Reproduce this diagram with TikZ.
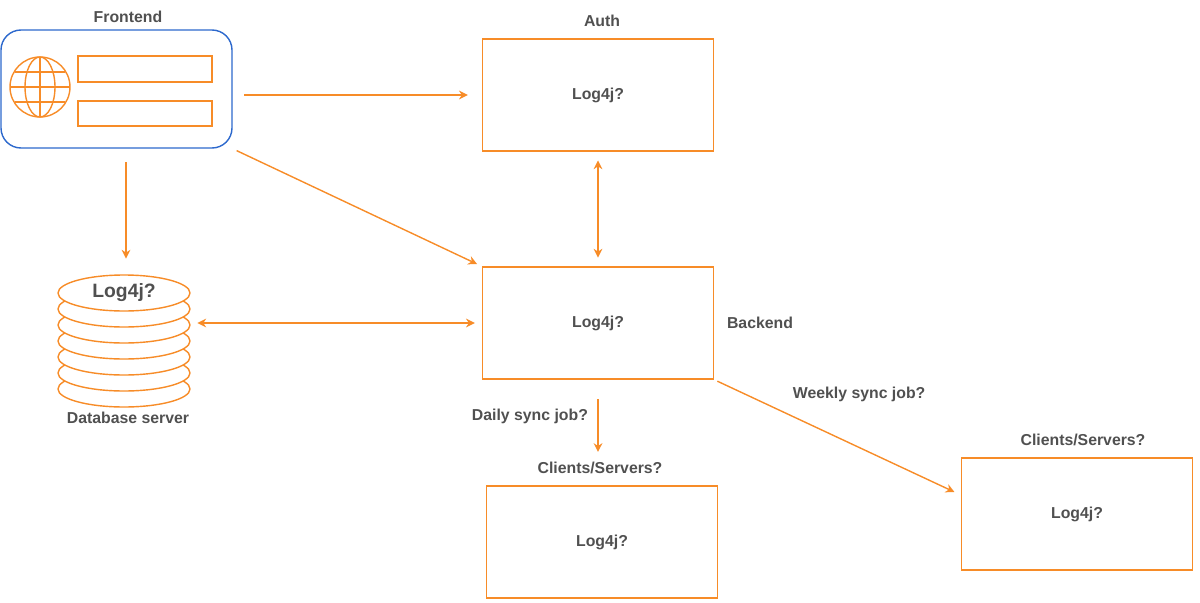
\documentclass[tikz,border=0pt]{standalone}
\usepackage{fontspec}
\setmainfont{Liberation Sans}
\usetikzlibrary{arrows.meta}
\definecolor{frameorange}{RGB}{247,140,40}
\definecolor{frameblue}{RGB}{45,105,205}
\definecolor{labelgray}{RGB}{80,80,80}
\tikzset{
    lbl/.style={font=\fontsize{9}{11}\selectfont\bfseries, text=labelgray},
    box/.style={draw=frameorange, thick, minimum width=4.62cm, minimum height=2.24cm, lbl},
    link/.style={draw=frameorange, thick, -{Stealth[length=5pt,width=5pt]}},
}
\begin{document}
\begin{tikzpicture}[x=0.02cm, y=-0.02cm]
    \useasboundingbox (0,0) rectangle (1200,602);

    % Frontend
    \draw[frameblue, thick, rounded corners=0.4cm] (1,30) rectangle (232,148);
    \node (front) [minimum width=4.62cm, minimum height=2.36cm] at (116,89) {};
    \node[lbl] (fronttitle) at (128,17) {Frontend};
    \draw[frameorange, thick] (78,56) rectangle (212,82);
    \draw[frameorange, thick] (78,101) rectangle (212,126);
    \begin{scope}[frameorange, thick]
        \draw (40,87) circle (0.6cm);
        \draw (40,87) ellipse [x radius=0.3cm, y radius=0.6cm];
        \draw (40,57) -- (40,117);
        \draw (10,87) -- (70,87);
        \draw (15,72) -- (65,72);
        \draw (15,102) -- (65,102);
    \end{scope}

    % Database server
    \foreach \k in {6,5,...,1} {
        \draw[frameorange, thick, fill=white] (124,293+16*\k) ellipse [x radius=1.32cm, y radius=0.36cm];
    }
    \draw[frameorange, thick, fill=white] (124,293) ellipse [x radius=1.32cm, y radius=0.36cm];
    \node[font=\fontsize{11}{13}\selectfont\bfseries, text=labelgray] at (124,293) {Log4j?};
    \node (db) [minimum width=2.64cm, minimum height=2.4cm] at (124,340) {};
    \node[lbl] (dbtitle) at (128,418) {Database server};

    % Services
    \node[box] (auth) at (598,95) {Log4j?};
    \node[lbl] (authtitle) at (602,21) {Auth};
    \node[box] (back) at (598,323) {Log4j?};
    \node[lbl] (backtitle) at (760,323) {Backend};
    \node[box] (cli1) at (602,542) {Log4j?};
    \node[lbl] (cli1title) at (600,468) {Clients/Servers?};
    \node[box] (cli2) at (1077,514) {Log4j?};
    \node[lbl] (cli2title) at (1083,440) {Clients/Servers?};

    % Connectors
    \draw[link, shorten <=7pt, shorten >=8pt] (front.east |- 0,95) -- (auth.west |- 0,95);
    \draw[link, shorten <=3pt, shorten >=3pt] (front.south east) -- (back.north west);
    \draw[link, shorten <=8pt, shorten >=12pt] (front.south -| 126,0) -- (db.north -| 126,0);
    \draw[link, {Stealth[length=5pt,width=5pt]}-{Stealth[length=5pt,width=5pt]}, shorten <=5pt, shorten >=5pt] (auth) -- (back);
    \draw[link, {Stealth[length=5pt,width=5pt]}-{Stealth[length=5pt,width=5pt]}, shorten <=4pt, shorten >=4pt] (db.east |- back) -- (back);
    \draw[link, shorten <=11pt, shorten >=19pt] (back) -- (back.south |- cli1.north)
        node[lbl, pos=0.35, left=2pt] {Daily sync job?};
    \draw[link, shorten <=2pt, shorten >=4pt] (back.south east) -- (cli2.west |- 0,495)
        node[lbl, pos=0.25, above right, xshift=6pt] {Weekly sync job?};
\end{tikzpicture}
\end{document}
